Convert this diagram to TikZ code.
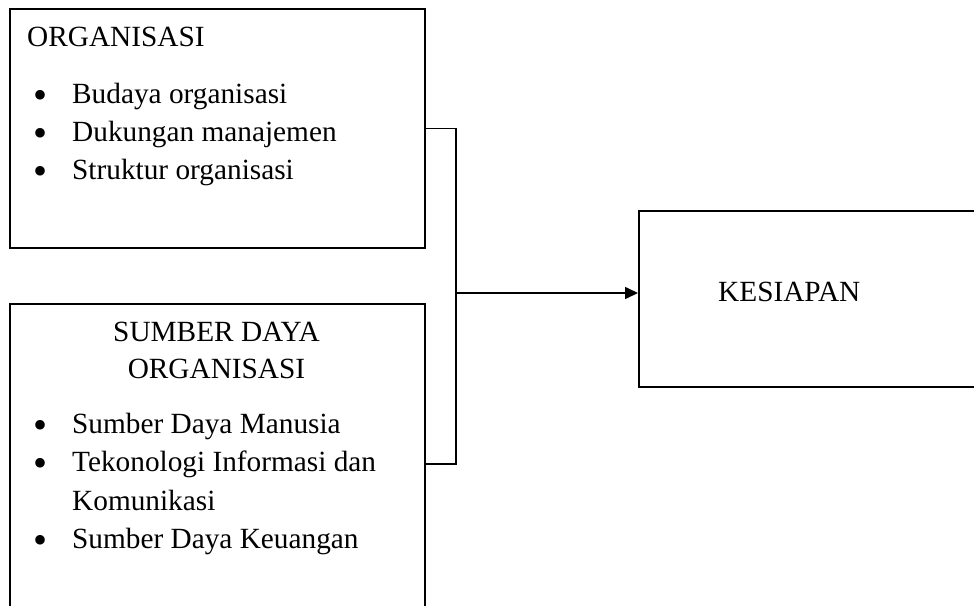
\documentclass[tikz,border=0pt]{standalone}
\usepackage{fontspec}
\setmainfont{Liberation Serif}
\usetikzlibrary{arrows.meta}
\tikzset{
  box/.style={draw=black, line width=1.6pt, rectangle, inner sep=0pt, anchor=north west},
  txt/.style={anchor=base west, inner sep=0pt, font=\fontsize{29.3}{38}\selectfont},
  ctxt/.style={anchor=base, inner sep=0pt, font=\fontsize{29.3}{38}\selectfont},
  bul/.style={anchor=center, inner sep=0pt, font=\fontsize{40}{40}\selectfont},
  conn/.style={draw=black, line width=1.6pt},
  arr/.style={conn, -{Triangle[length=13pt,width=12pt]}}
}
\begin{document}
\begin{tikzpicture}[x=1pt,y=-1pt]
\useasboundingbox (0,0) rectangle (974,605);
\clip (0,0) rectangle (974,605);
\fill[white] (0,0) rectangle (974,605);
% boxes
\node[box, minimum width=415pt, minimum height=239pt] (b1) at (9,8) {};
\node[box, minimum width=415pt, minimum height=320pt] (b2) at (9,303) {};
\node[box, minimum width=360pt, minimum height=176pt] (k) at (638,210) {};
% box 1 text
\node[txt] (t1) at (27,46) {ORGANISASI};
\node[bul] (p1) at (41,99) {•};
\node[txt] (l1) at (72,103) {Budaya organisasi};
\node[bul] (p2) at (41,137) {•};
\node[txt] (l2) at (72,141) {Dukungan manajemen};
\node[bul] (p3) at (41,175) {•};
\node[txt] (l3) at (72,179) {Struktur organisasi};
% box 2 text
\node[ctxt] (t2a) at (216.5,341) {SUMBER DAYA};
\node[ctxt] (t2b) at (216.5,378) {ORGANISASI};
\node[bul] (q1) at (41,429) {•};
\node[txt] (m1) at (72,433) {Sumber Daya Manusia};
\node[bul] (q2) at (41,467) {•};
\node[txt] (m2) at (72,471) {Tekonologi Informasi dan};
\node[txt] (m3) at (72,510) {Komunikasi};
\node[bul] (q4) at (41,544) {•};
\node[txt] (m4) at (72,548) {Sumber Daya Keuangan};
% right box text
\node[txt] (kt) at (718,301) {KESIAPAN};
% connectors
\coordinate (j) at (456,293);
\draw[conn] (b1.east) -| (j);
\draw[conn] (b2.east) -| (j);
\draw[arr] (j) -- (j -| k.west);
\end{tikzpicture}
\end{document}
